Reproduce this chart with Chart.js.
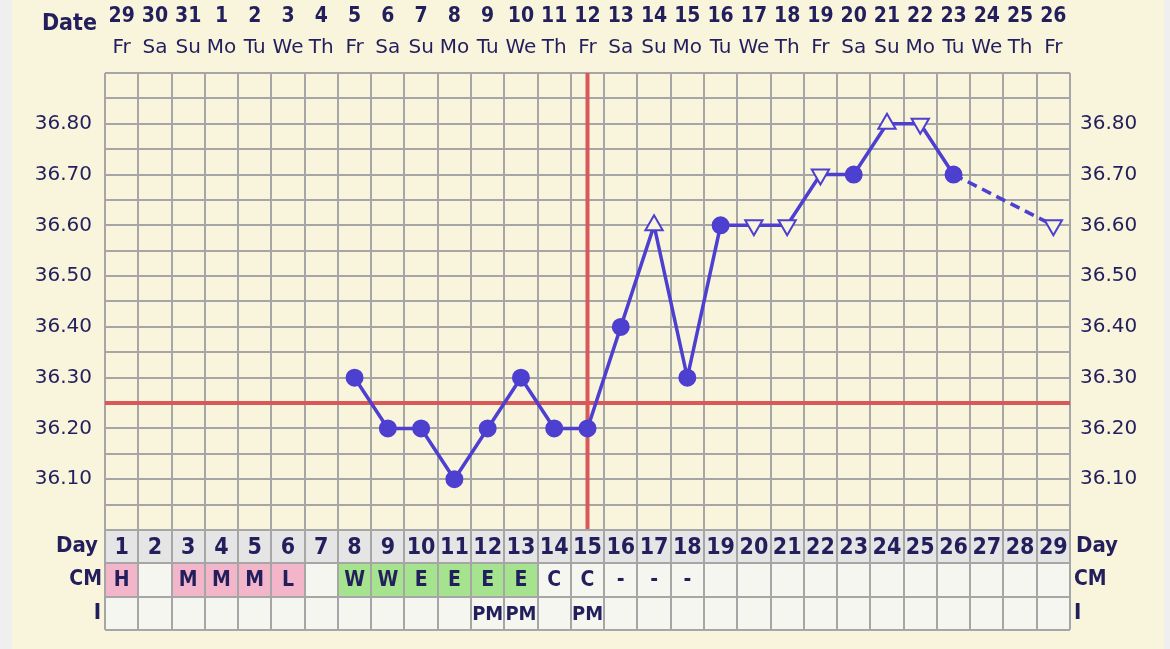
<!DOCTYPE html>
<html><head><meta charset="utf-8">
<script src="https://cdn.jsdelivr.net/npm/chart.js@4.4.1/dist/chart.umd.min.js"></script>
<style>html,body{margin:0;padding:0;background:#efefef;overflow:hidden}canvas{display:block}</style>
</head><body><canvas id="c" width="1170" height="649"></canvas>
<script>
// ---- data ----
const cycleDays = [1,2,3,4,5,6,7,8,9,10,11,12,13,14,15,16,17,18,19,20,21,22,23,24,25,26,27,28,29];
const dates = ['29','30','31','1','2','3','4','5','6','7','8','9','10','11','12','13','14','15','16','17','18','19','20','21','22','23','24','25','26'];
const weekdays = ['Fr','Sa','Su','Mo','Tu','We','Th','Fr','Sa','Su','Mo','Tu','We','Th','Fr','Sa','Su','Mo','Tu','We','Th','Fr','Sa','Su','Mo','Tu','We','Th','Fr'];
const temps = [null,null,null,null,null,null,null,36.30,36.20,36.20,36.10,36.20,36.30,36.20,36.20,36.40,36.60,36.30,36.60,36.60,36.60,36.70,36.70,36.80,36.80,36.70,null,null,36.60];
const markers = [null,null,null,null,null,null,null,'dot','dot','dot','dot','dot','dot','dot','dot','dot','up','dot','dot','down','down','down','dot','up','down','dot',null,null,'down'];
const cervicalMucus = ['H','','M','M','M','L','','W','W','E','E','E','E','C','C','-','-','-','','','','','','','','','','',''];
const intercourse = ['','','','','','','','','','','','PM','PM','','PM','','','','','','','','','','','','','',''];
const yTickLabels = [36.10,36.20,36.30,36.40,36.50,36.60,36.70,36.80];
const coverline = 36.25;
const ovulationDay = 15;

// ---- styles ----
const CREAM = '#f9f4dc';
const INK = '#231f5c';
const PURPLE = '#4d3fd0';
const RED = '#d9585a';
const GRID = '#a6a6a6';
const BOLDF = '"DejaVu Sans Condensed", "DejaVu Sans", sans-serif';
const REGF = '"DejaVu Sans", sans-serif';
const cmColor = v => (v==='H'||v==='M'||v==='L') ? '#f2b5c9' : (v==='W'||v==='E') ? '#a5e38f' : '#f6f6f1';

const fmtTick = v => {
  const r = Math.round(v*100)/100;
  return yTickLabels.some(t => Math.abs(t-r) < 1e-6) ? r.toFixed(2) : '';
};

const fertilityPlugin = {
  id: 'fertility',
  beforeDraw(chart) {
    const c = chart.ctx;
    c.save();
    c.fillStyle = '#efefef'; c.fillRect(0,0,chart.width,chart.height);
    c.fillStyle = CREAM; c.fillRect(12,0,1152,chart.height);
    c.restore();
  },
  beforeDatasetsDraw(chart) {
    const c = chart.ctx, x = chart.scales.x, y = chart.scales.y, a = chart.chartArea;
    c.save();
    c.strokeStyle = RED; c.lineWidth = 4;
    const yc = y.getPixelForValue(coverline);
    c.beginPath(); c.moveTo(a.left, yc); c.lineTo(a.right, yc); c.stroke();
    const xo = x.getPixelForValue(ovulationDay-1);
    c.beginPath(); c.moveTo(xo, a.top); c.lineTo(xo, a.bottom); c.stroke();
    c.restore();
  },
  afterDraw(chart) {
    const c = chart.ctx, x = chart.scales.x, a = chart.chartArea;
    const w = (a.right - a.left) / cycleDays.length;
    c.save();
    c.fillStyle = INK;
    c.textBaseline = 'middle';
    // top header
    c.textAlign = 'right';
    c.font = 'bold 23px ' + BOLDF;
    c.fillText('Date', 97, 24);
    c.textAlign = 'center';
    dates.forEach((d,i) => {
      const cx = x.getPixelForValue(i);
      c.font = 'bold 21px ' + BOLDF;
      c.fillText(d, cx, 17);
      c.font = '20px ' + REGF;
      c.fillText(weekdays[i], cx, 48);
    });
    // table
    const top = a.bottom, rh = w;
    cycleDays.forEach((d,i) => {
      const l = a.left + i*w;
      c.fillStyle = '#e5e5e5'; c.fillRect(l, top, w, rh);
      c.fillStyle = cmColor(cervicalMucus[i]); c.fillRect(l, top+rh, w, rh);
      c.fillStyle = '#f6f6f1'; c.fillRect(l, top+2*rh, w, rh);
    });
    c.strokeStyle = GRID; c.lineWidth = 2;
    for (let r=0; r<=3; r++) {
      const yy = Math.round(top + r*rh);
      c.beginPath(); c.moveTo(a.left, yy); c.lineTo(a.right, yy); c.stroke();
    }
    for (let i=0; i<=cycleDays.length; i++) {
      const xx = Math.round(a.left + i*w);
      c.beginPath(); c.moveTo(xx, top); c.lineTo(xx, top+3*rh); c.stroke();
    }
    c.fillStyle = INK;
    c.textAlign = 'center';
    cycleDays.forEach((d,i) => {
      const cx = x.getPixelForValue(i);
      c.font = 'bold 23px ' + BOLDF;
      c.fillText(String(d), cx, top + rh*0.5 + 1);
      c.font = 'bold 21px ' + BOLDF;
      if (cervicalMucus[i]) c.fillText(cervicalMucus[i], cx, top + rh*1.5 + 1);
      c.font = 'bold 20px ' + BOLDF;
      if (intercourse[i]) c.fillText(intercourse[i], cx, top + rh*2.5 + 2);
    });
    // row labels
    c.textAlign = 'right';
    c.font = 'bold 22px ' + BOLDF; c.fillText('Day', 98, top + rh*0.5);
    c.font = 'bold 21px ' + BOLDF; c.fillText('CM', 102, top + rh*1.5);
    c.font = 'bold 22px ' + BOLDF; c.fillText('I', 101, top + rh*2.5);
    c.textAlign = 'left';
    c.font = 'bold 22px ' + BOLDF; c.fillText('Day', 1076, top + rh*0.5);
    c.font = 'bold 21px ' + BOLDF; c.fillText('CM', 1074, top + rh*1.5);
    c.font = 'bold 22px ' + BOLDF; c.fillText('I', 1074, top + rh*2.5);
    c.restore();
  }
};

const pointStyles = markers.map(m => m === 'dot' ? 'circle' : 'triangle');
const pointRot = markers.map(m => m === 'down' ? 180 : 0);
const pointBg = markers.map(m => m === 'dot' ? PURPLE : CREAM);
const pointRad = markers.map(m => m === 'dot' ? 8 : 10);

const yCommon = {
  min: 36.0, max: 36.9,
  ticks: { stepSize: 0.05, autoSkip: false, callback: fmtTick, color: INK, font: { family: REGF, size: 20 } },
  border: { display: false }
};

new Chart(document.getElementById('c'), {
  type: 'line',
  data: {
    labels: cycleDays,
    datasets: [{
      data: temps,
      borderColor: PURPLE,
      borderWidth: 3.5,
      spanGaps: true,
      pointStyle: pointStyles,
      rotation: pointRot,
      pointRadius: pointRad,
      pointBackgroundColor: pointBg,
      pointBorderColor: PURPLE,
      pointBorderWidth: 2,
      segment: { borderDash: ctx => (temps[ctx.p1DataIndex - 1] === null ? [10,6] : undefined) }
    }]
  },
  options: {
    responsive: false, animation: false,
    layout: { padding: { top: 73, bottom: 119, left: 0, right: 0 } },
    plugins: { legend: { display: false }, tooltip: { enabled: false } },
    scales: {
      x: { type: 'category', offset: true,
           grid: { offset: true, color: GRID, lineWidth: 2, drawTicks: false },
           ticks: { display: false }, border: { display: false },
           afterFit: s => { s.height = 0; } },
      y: Object.assign({}, yCommon, { position: 'left',
           ticks: Object.assign({}, yCommon.ticks, { padding: 13 }),
           grid: { color: GRID, lineWidth: 2, drawTicks: false },
           afterFit: s => { s.width = 105; } }),
      y2: Object.assign({}, yCommon, { position: 'right',
           ticks: Object.assign({}, yCommon.ticks, { padding: 10 }),
           grid: { display: false, drawTicks: false },
           afterFit: s => { s.width = 100; } })
    }
  },
  plugins: [fertilityPlugin]
});
</script>
</body></html>
